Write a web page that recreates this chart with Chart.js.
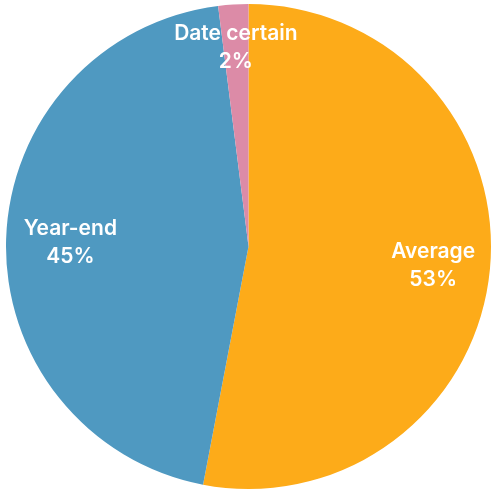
<!DOCTYPE html>
<html>
<head>
<meta charset="utf-8">
<script src="https://cdn.jsdelivr.net/npm/chart.js@4"></script>
<style>
  html, body { margin: 0; padding: 0; background: #ffffff; }
  #wrap { width: 491px; height: 492px; }
</style>
</head>
<body>
<div id="wrap"><canvas id="pieChart"></canvas></div>
<script>
const categories = ['Average', 'Year-end', 'Date certain'];
const shares = [53, 45, 2];
const sliceColors = ['#FDAB19', '#4F99C1', '#DC8BA7'];

// where each label sits, as a fraction of the radius
const labelOffsets = [0.765, 0.735, 0.83];

const sliceLabels = {
  id: 'sliceLabels',
  afterDatasetsDraw(chart) {
    const ctx = chart.ctx;
    const meta = chart.getDatasetMeta(0);
    ctx.save();
    ctx.fillStyle = '#ffffff';
    ctx.font = '600 21px Inter, "Open Sans", sans-serif';
    ctx.textAlign = 'center';
    ctx.textBaseline = 'middle';
    meta.data.forEach((arc, i) => {
      const p = arc.getProps(['x', 'y', 'startAngle', 'endAngle', 'outerRadius'], true);
      const mid = (p.startAngle + p.endAngle) / 2;
      const r = p.outerRadius * labelOffsets[i];
      const x = p.x + Math.cos(mid) * r;
      const y = p.y + Math.sin(mid) * r;
      ctx.fillText(categories[i], x, y - 12);
      ctx.fillText(shares[i] + '%', x, y + 16);
    });
    ctx.restore();
  }
};

new Chart(document.getElementById('pieChart'), {
  type: 'pie',
  data: {
    labels: categories,
    datasets: [{
      data: shares,
      backgroundColor: sliceColors,
      borderWidth: 0
    }]
  },
  options: {
    responsive: true,
    maintainAspectRatio: false,
    animation: false,
    layout: { padding: { left: 6, right: 0, top: 4, bottom: 3 } },
    plugins: {
      legend: { display: false },
      tooltip: { enabled: false }
    }
  },
  plugins: [sliceLabels]
});
</script>
</body>
</html>
